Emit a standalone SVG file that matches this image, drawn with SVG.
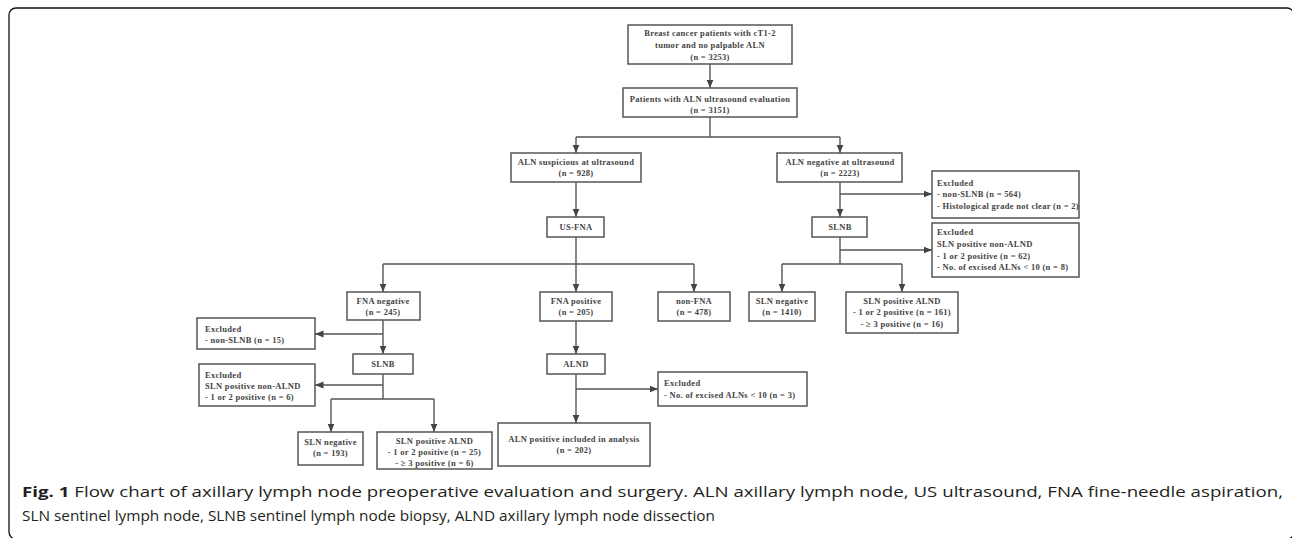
<svg xmlns="http://www.w3.org/2000/svg" width="1292" height="538" viewBox="0 0 1292 538">
<style>
.bx{fill:#fff;stroke:#555;stroke-width:1.5}
.t{font-family:"Liberation Serif","Times New Roman",serif;font-weight:bold;font-size:8.5px;letter-spacing:0.3px;fill:#444}
.c{text-anchor:middle}
.ln{fill:none;stroke:#555;stroke-width:1.4}
.cap{font-family:"Open Sans","Liberation Sans",sans-serif;font-size:15px;fill:#231f20}
</style>
<defs>
<marker id="ah" markerUnits="userSpaceOnUse" markerWidth="9" markerHeight="8" refX="8.5" refY="3.5" orient="auto">
<path d="M0,0 L8.5,3.5 L0,7 z" fill="#444"/>
</marker>
</defs>
<rect x="9" y="8" width="1285" height="531" rx="7" fill="none" stroke="#111" stroke-width="1.3"/>

<g id="connectors">
<path class="ln" d="M710,64 V88" marker-end="url(#ah)"/>
<path class="ln" d="M710,117 V137"/>
<path class="ln" d="M576,137 H840"/>
<path class="ln" d="M576,137 V153" marker-end="url(#ah)"/>
<path class="ln" d="M840,137 V153" marker-end="url(#ah)"/>
<path class="ln" d="M576,182 V217" marker-end="url(#ah)"/>
<path class="ln" d="M576,237 V264"/>
<path class="ln" d="M383,264 H694"/>
<path class="ln" d="M383,264 V292" marker-end="url(#ah)"/>
<path class="ln" d="M576,264 V292" marker-end="url(#ah)"/>
<path class="ln" d="M694,264 V292" marker-end="url(#ah)"/>
<path class="ln" d="M383,320 V354" marker-end="url(#ah)"/>
<path class="ln" d="M383,334 H315" marker-end="url(#ah)"/>
<path class="ln" d="M383,374 V399"/>
<path class="ln" d="M383,385 H315" marker-end="url(#ah)"/>
<path class="ln" d="M331,399 H434"/>
<path class="ln" d="M331,399 V432" marker-end="url(#ah)"/>
<path class="ln" d="M434,399 V432" marker-end="url(#ah)"/>
<path class="ln" d="M576,321 V354" marker-end="url(#ah)"/>
<path class="ln" d="M576,374 V423" marker-end="url(#ah)"/>
<path class="ln" d="M576,389 H658" marker-end="url(#ah)"/>
<path class="ln" d="M840,182 V217" marker-end="url(#ah)"/>
<path class="ln" d="M840,194 H932" marker-end="url(#ah)"/>
<path class="ln" d="M840,237 V264"/>
<path class="ln" d="M840,250 H932" marker-end="url(#ah)"/>
<path class="ln" d="M782,264 H902"/>
<path class="ln" d="M782,264 V292" marker-end="url(#ah)"/>
<path class="ln" d="M902,264 V292" marker-end="url(#ah)"/>
</g>

<g id="n-start">
<rect class="bx" x="628" y="25" width="164" height="39"/>
<text class="t c" x="710" y="36">Breast cancer patients with cT1-2</text>
<text class="t c" x="710" y="48">tumor and no palpable ALN</text>
<text class="t c" x="710" y="60">(n = 3253)</text>
</g>
<g id="n-us">
<rect class="bx" x="623" y="88" width="174" height="29"/>
<text class="t c" x="710" y="102">Patients with ALN ultrasound evaluation</text>
<text class="t c" x="710" y="113">(n = 3151)</text>
</g>
<g id="n-susp">
<rect class="bx" x="511" y="153" width="130" height="29"/>
<text class="t c" x="576" y="165">ALN suspicious at ultrasound</text>
<text class="t c" x="576" y="176">(n = 928)</text>
</g>
<g id="n-neg">
<rect class="bx" x="777" y="153" width="125" height="29"/>
<text class="t c" x="840" y="165">ALN negative at ultrasound</text>
<text class="t c" x="840" y="176">(n = 2223)</text>
</g>
<g id="n-usfna">
<rect class="bx" x="547" y="217" width="57" height="20"/>
<text class="t c" x="576" y="230">US-FNA</text>
</g>
<g id="n-fnaneg">
<rect class="bx" x="347" y="292" width="73" height="28"/>
<text class="t c" x="383" y="304">FNA negative</text>
<text class="t c" x="383" y="315">(n = 245)</text>
</g>
<g id="n-fnapos">
<rect class="bx" x="540" y="292" width="72" height="29"/>
<text class="t c" x="576" y="304">FNA positive</text>
<text class="t c" x="576" y="315">(n = 205)</text>
</g>
<g id="n-nonfna">
<rect class="bx" x="658" y="292" width="72" height="29"/>
<text class="t c" x="694" y="304">non-FNA</text>
<text class="t c" x="694" y="315">(n = 478)</text>
</g>
<g id="n-excl-a">
<rect class="bx" x="197" y="318" width="118" height="31"/>
<text class="t" x="205" y="332">Excluded</text>
<text class="t" x="205" y="343">- non-SLNB (n = 15)</text>
</g>
<g id="n-slnb-l">
<rect class="bx" x="353" y="354" width="60" height="20"/>
<text class="t c" x="383" y="367">SLNB</text>
</g>
<g id="n-excl-b">
<rect class="bx" x="199" y="364" width="116" height="42"/>
<text class="t" x="205" y="378">Excluded</text>
<text class="t" x="205" y="389">SLN positive non-ALND</text>
<text class="t" x="205" y="400">- 1 or 2 positive (n = 6)</text>
</g>
<g id="n-slnneg-l">
<rect class="bx" x="298" y="432" width="65" height="33"/>
<text class="t c" x="330.5" y="445">SLN negative</text>
<text class="t c" x="330.5" y="456">(n = 193)</text>
</g>
<g id="n-slnpos-l">
<rect class="bx" x="377" y="432" width="115" height="37"/>
<text class="t c" x="434.5" y="444">SLN positive ALND</text>
<text class="t c" x="434.5" y="455">- 1 or 2 positive (n = 25)</text>
<text class="t c" x="434.5" y="466">- ≥ 3 positive (n = 6)</text>
</g>
<g id="n-alnd">
<rect class="bx" x="547" y="354" width="58" height="20"/>
<text class="t c" x="576" y="367">ALND</text>
</g>
<g id="n-excl-c">
<rect class="bx" x="658" y="372" width="149" height="34"/>
<text class="t" x="664" y="386">Excluded</text>
<text class="t" x="664" y="398">- No. of excised ALNs &lt; 10 (n = 3)</text>
</g>
<g id="n-alnpos">
<rect class="bx" x="498" y="423" width="152" height="43"/>
<text class="t c" x="574" y="442">ALN positive included in analysis</text>
<text class="t c" x="574" y="453">(n = 202)</text>
</g>
<g id="n-excl-d">
<rect class="bx" x="932" y="171" width="147" height="47"/>
<text class="t" x="937" y="186">Excluded</text>
<text class="t" x="937" y="197">- non-SLNB (n = 564)</text>
<text class="t" x="937" y="209">- Histological grade not clear (n = 2)</text>
</g>
<g id="n-slnb-r">
<rect class="bx" x="812" y="217" width="55" height="20"/>
<text class="t c" x="840" y="230">SLNB</text>
</g>
<g id="n-excl-e">
<rect class="bx" x="932" y="223" width="147" height="54"/>
<text class="t" x="937" y="235">Excluded</text>
<text class="t" x="937" y="247">SLN positive non-ALND</text>
<text class="t" x="937" y="259">- 1 or 2 positive (n = 62)</text>
<text class="t" x="937" y="270">- No. of excised ALNs &lt; 10 (n = 8)</text>
</g>
<g id="n-slnneg-r">
<rect class="bx" x="749" y="292" width="66" height="29"/>
<text class="t c" x="782" y="304">SLN negative</text>
<text class="t c" x="782" y="315">(n = 1410)</text>
</g>
<g id="n-slnpos-r">
<rect class="bx" x="846" y="292" width="112" height="41"/>
<text class="t c" x="902" y="304">SLN positive ALND</text>
<text class="t c" x="902" y="315">- 1 or 2 positive (n = 161)</text>
<text class="t c" x="902" y="327">- ≥ 3 positive (n = 16)</text>
</g>

<g id="caption">
<text class="cap" x="22" y="497" textLength="1261" lengthAdjust="spacingAndGlyphs"><tspan font-weight="bold">Fig. 1</tspan> Flow chart of axillary lymph node preoperative evaluation and surgery. ALN axillary lymph node, US ultrasound, FNA fine-needle aspiration,</text>
<text class="cap" x="22" y="521" textLength="693" lengthAdjust="spacingAndGlyphs">SLN sentinel lymph node, SLNB sentinel lymph node biopsy, ALND axillary lymph node dissection</text>
</g>
</svg>
